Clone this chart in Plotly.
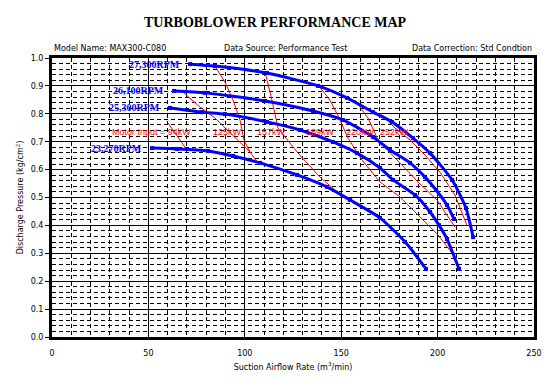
import plotly.graph_objects as go

# ---- data (flow m3/min, pressure kg/cm2) ----
rpm_labels = ["27,300RPM", "26,100RPM", "25,300RPM", "23,270RPM"]

flow_27300 = [71.6, 84.5, 111.5, 138.0, 153.0, 166.5, 176.3, 187.2, 196.1, 207.5, 214.7, 218.4]
pres_27300 = [0.978, 0.971, 0.946, 0.900, 0.857, 0.806, 0.771, 0.713, 0.659, 0.563, 0.462, 0.358]

flow_26100 = [63.3, 79.4, 110.5, 135.4, 150.9, 166.5, 175.3, 185.7, 193.5, 199.2, 204.9, 208.5]
pres_26100 = [0.882, 0.875, 0.846, 0.810, 0.778, 0.717, 0.670, 0.624, 0.573, 0.527, 0.473, 0.423]

flow_25300 = [61.2, 77.8, 89.7, 111.5, 128.6, 145.7, 158.2, 170.1, 176.9, 188.3, 196.1, 200.7, 204.9, 211.1]
pres_25300 = [0.821, 0.806, 0.799, 0.771, 0.742, 0.699, 0.659, 0.606, 0.563, 0.509, 0.448, 0.401, 0.351, 0.244]

flow_23270 = [51.9, 64.8, 80.9, 93.9, 107.9, 127.1, 142.6, 154.6, 170.1, 183.1, 194.0]
pres_23270 = [0.677, 0.674, 0.667, 0.649, 0.624, 0.581, 0.538, 0.491, 0.427, 0.341, 0.244]

# iso motor-input power lines
power_labels = ["Motor Input = 94kW", "125kW", "157kW", "189kW", "220kW", "252kW"]
power_label_x = [51.6, 91.0, 113.8, 139.3, 159.8, 177.9]
power_label_y = 0.735

flow_p94 = [60.2, 70.0]
pres_p94 = [0.767, 0.670]
flow_pb = [67.9, 76.8, 84.5, 96.0, 102.7]
pres_pb = [0.878, 0.824, 0.785, 0.706, 0.663]
flow_p125 = [84.5, 89.7, 93.9, 97.5, 99.6, 102.7, 106.8]
pres_p125 = [0.971, 0.914, 0.849, 0.778, 0.706, 0.663, 0.624]
flow_p157 = [110.5, 114.1, 117.2, 127.1, 139.0, 150.9]
pres_p157 = [0.950, 0.849, 0.749, 0.663, 0.573, 0.502]
flow_p189 = [138.0, 144.2, 149.4, 153.5, 160.8, 170.1, 180.5, 190.9, 200.2, 207.5]
pres_p189 = [0.903, 0.849, 0.778, 0.713, 0.634, 0.556, 0.502, 0.430, 0.366, 0.301]
flow_p220 = [157.2, 163.9, 169.1, 180.5, 189.8, 199.7, 209.0]
pres_p220 = [0.849, 0.785, 0.706, 0.624, 0.556, 0.491, 0.394]
flow_p252 = [171.2, 177.9, 185.7, 193.5, 201.2, 209.0, 215.2]
pres_p252 = [0.796, 0.749, 0.706, 0.652, 0.591, 0.509, 0.401]

x_ticks = [0, 50, 100, 150, 200, 250]
y_ticks = [0.0, 0.1, 0.2, 0.3, 0.4, 0.5, 0.6, 0.7, 0.8, 0.9, 1.0]

BLUE = "#0000FF"
RED = "#FF0000"

fig = go.Figure()

for fx, py in [(flow_p94, pres_p94), (flow_pb, pres_pb), (flow_p125, pres_p125),
               (flow_p157, pres_p157), (flow_p189, pres_p189), (flow_p220, pres_p220),
               (flow_p252, pres_p252)]:
    fig.add_trace(go.Scatter(x=fx, y=py, mode="lines", line=dict(color=RED, width=1),
                             hoverinfo="skip", showlegend=False))

curves = [(flow_27300, pres_27300), (flow_26100, pres_26100),
          (flow_25300, pres_25300), (flow_23270, pres_23270)]
for (fx, py), lab in zip(curves, rpm_labels):
    fig.add_trace(go.Scatter(x=fx, y=py, mode="lines+markers", name=lab,
                             line=dict(color=BLUE, width=3, shape="spline", smoothing=0.6),
                             marker=dict(color=BLUE, size=4, symbol="square"),
                             showlegend=False))
    fig.add_annotation(x=fx[0], y=py[0], text="<b>" + lab + "</b>", showarrow=False,
                       xanchor="right", yanchor="middle", xshift=-8,
                       font=dict(family="Liberation Serif", size=10, color=BLUE))

for i, lab in enumerate(power_labels):
    fig.add_annotation(x=power_label_x[i], y=power_label_y, text=lab, showarrow=False,
                       xanchor="center", yanchor="middle",
                       font=dict(family="Liberation Sans", size=9, color=RED))

fig.add_annotation(xref="paper", yref="paper", x=0.0, y=1.0, yshift=3, xanchor="left",
                   yanchor="bottom", showarrow=False, text="Model Name: MAX300-C080",
                   font=dict(family="DejaVu Sans", size=8, color="black"))
fig.add_annotation(xref="paper", yref="paper", x=0.485, y=1.0, yshift=3, xanchor="center",
                   yanchor="bottom", showarrow=False, text="Data Source: Performance Test",
                   font=dict(family="DejaVu Sans", size=8, color="black"))
fig.add_annotation(xref="paper", yref="paper", x=1.0, y=1.0, yshift=3, xanchor="right",
                   yanchor="bottom", showarrow=False, text="Data Correction: Std Condtion",
                   font=dict(family="DejaVu Sans", size=8, color="black"))

# page body adds an 8px margin, so the figure is 8px smaller and shifted
fig.update_layout(
    width=545, height=378,
    margin=dict(l=44, r=19, t=50, b=49, autoexpand=False),
    paper_bgcolor="white", plot_bgcolor="white",
    title=dict(text="<b>TURBOBLOWER PERFORMANCE MAP</b>", x=0.49, xanchor="center",
               y=0.963, yanchor="middle",
               font=dict(family="Liberation Serif", size=14, color="black")),
    showlegend=False,
)

fig.update_xaxes(range=[0, 250], tickvals=x_ticks, ticks="", ticklabelstandoff=6,
                 automargin=False,
                 showgrid=True, gridcolor="black", gridwidth=1,
                 minor=dict(dtick=10, showgrid=True, gridcolor="black", gridwidth=1,
                            griddash="4px,3px"),
                 showline=True, linecolor="black", linewidth=3, mirror=True,
                 zeroline=False,
                 tickfont=dict(family="DejaVu Sans", size=8, color="black"),
                 title=dict(text="Suction Airflow Rate (m<sup>3</sup>/min)", standoff=8,
                            font=dict(family="DejaVu Sans", size=8, color="black")))
fig.update_yaxes(range=[0, 1.0], tickvals=y_ticks, tickformat=".1f", ticks="outside",
                 ticklen=4, tickcolor="black", automargin=False,
                 showgrid=True, gridcolor="black", gridwidth=1,
                 minor=dict(dtick=0.02, showgrid=True, gridcolor="black", gridwidth=1,
                            griddash="4px,3px"),
                 showline=True, linecolor="black", linewidth=3, mirror=True,
                 zeroline=False,
                 tickfont=dict(family="DejaVu Sans", size=8, color="black"),
                 title=dict(text="Discharge Pressure (kg/cm<sup>2</sup>)", standoff=6,
                            font=dict(family="DejaVu Sans", size=8, color="black")))

fig.write_html("out.html")
